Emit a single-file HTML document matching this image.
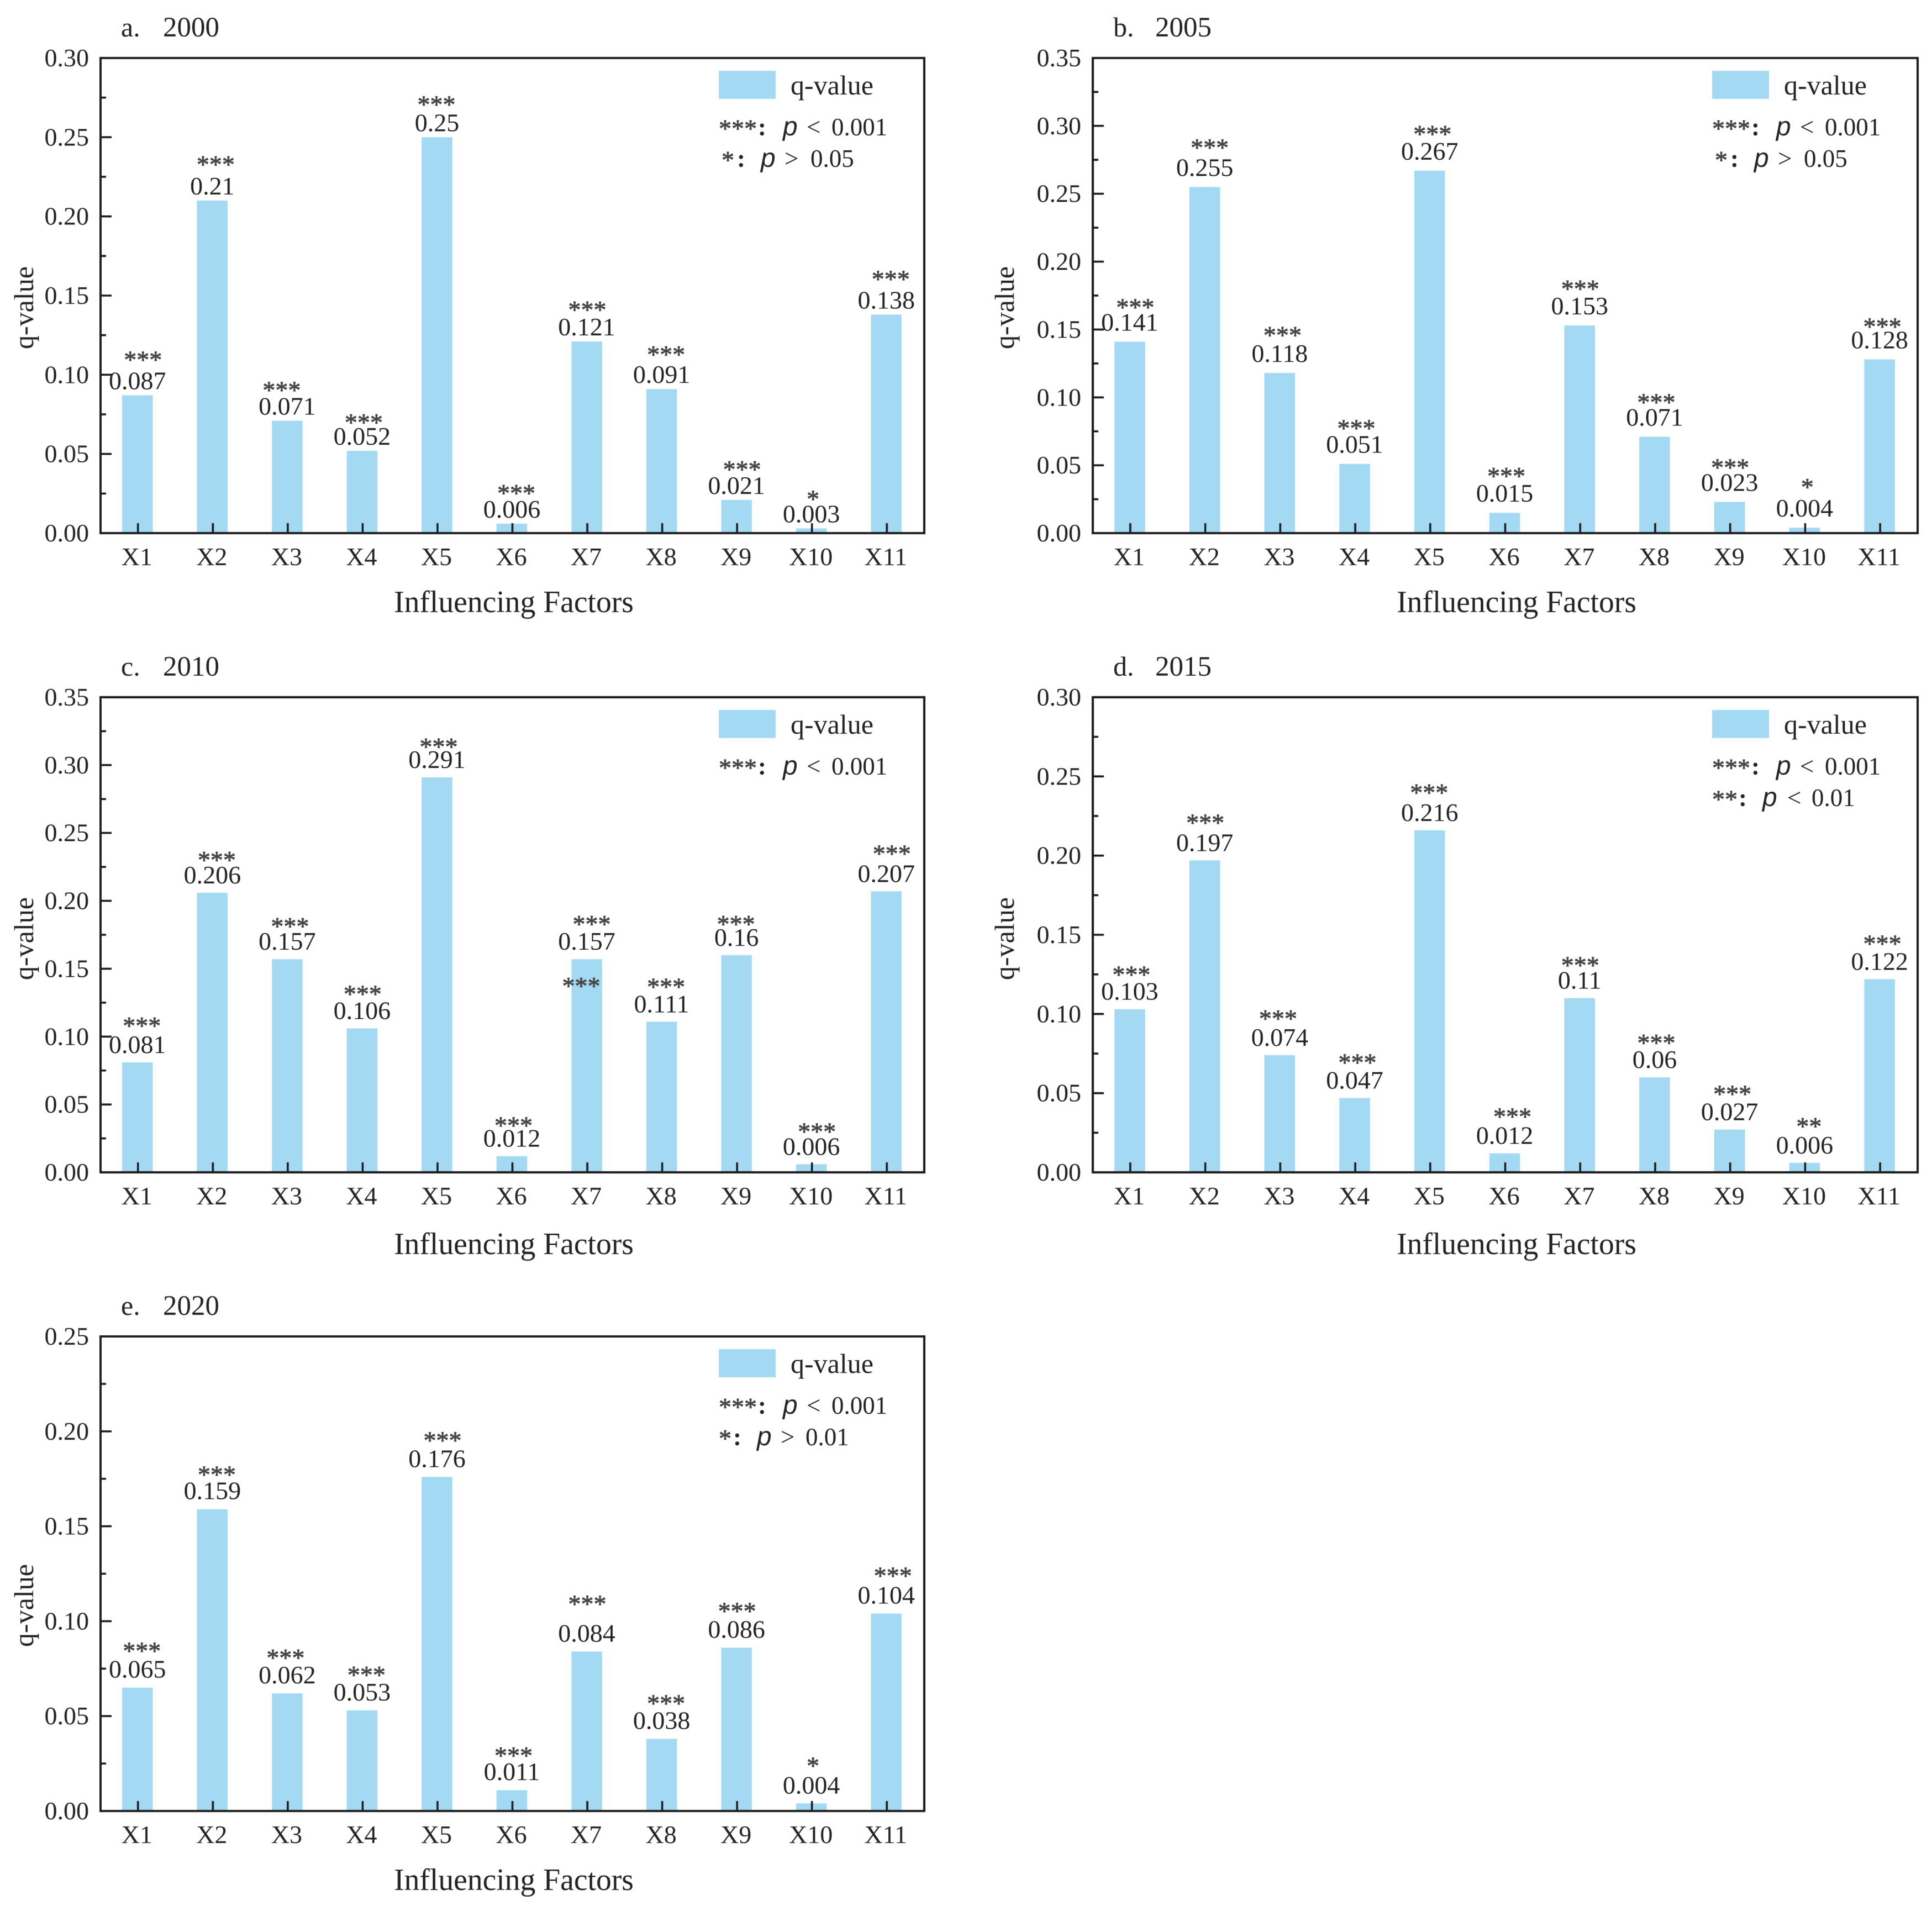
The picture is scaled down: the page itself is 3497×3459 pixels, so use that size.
<!DOCTYPE html>
<html lang="en">
<head>
<meta charset="utf-8">
<title>q-value by influencing factor, 2000-2020</title>
<style>
html,body{margin:0;padding:0;background:#fff;}
#chart-root{display:block;width:3497px;height:3459px;filter:blur(0.7px);}
text{font-family:"Liberation Serif","Noto Serif CJK SC",serif;fill:#222;}
.p-mark{font-family:"Liberation Sans",sans-serif;font-style:italic;}
.star-mark{fill:#444;stroke:#444;stroke-width:0.9px;}
</style>
</head>
<body>
<svg id="chart-root" xmlns="http://www.w3.org/2000/svg" width="3497" height="3459" viewBox="0 0 3497 3459"></svg>
<script>
// ---- Data ----
const categories = ['X1','X2','X3','X4','X5','X6','X7','X8','X9','X10','X11'];

const q2000 = [0.087,0.21,0.071,0.052,0.25,0.006,0.121,0.091,0.021,0.003,0.138];
const q2005 = [0.141,0.255,0.118,0.051,0.267,0.015,0.153,0.071,0.023,0.004,0.128];
const q2010 = [0.081,0.206,0.157,0.106,0.291,0.012,0.157,0.111,0.16,0.006,0.207];
const q2015 = [0.103,0.197,0.074,0.047,0.216,0.012,0.11,0.06,0.027,0.006,0.122];
const q2020 = [0.065,0.159,0.062,0.053,0.176,0.011,0.084,0.038,0.086,0.004,0.104];

const stars2000 = ['***','***','***','***','***','***','***','***','***','*','***'];
const stars2005 = ['***','***','***','***','***','***','***','***','***','*','***'];
const stars2010 = ['***','***','***','***','***','***','***','***','***','***','***'];
const stars2015 = ['***','***','***','***','***','***','***','***','***','**','***'];
const stars2020 = ['***','***','***','***','***','***','***','***','***','*','***'];

const ticks030 = ['0.00','0.05','0.10','0.15','0.20','0.25','0.30'];
const ticks035 = ['0.00','0.05','0.10','0.15','0.20','0.25','0.30','0.35'];
const ticks025 = ['0.00','0.05','0.10','0.15','0.20','0.25'];

// ---- Hand placement of the significance marks, as offsets from each bar top ----
const starLift2000 = [67,68,58,54,62,58,60,65,58,56,67];
const starLift2005 = [65,74,71,67,69,69,69,65,65,76,62];
const starLift2010 = [69,62,62,65,58,58,66,66,59,62,71];
const starLift2015 = [65,71,69,67,71,69,62,65,67,69,67];
const starLift2020 = [69,65,67,67,69,65,89,67,69,71,71];

const starShift2000 = [9,5,-11,2,-2,7,0,7,9,2,7];
const starShift2005 = [9,8,4,2,4,2,0,2,0,4,4];
const starShift2010 = [7,7,4,0,2,2,8,7,-2,9,9];
const starShift2015 = [2,0,-4,4,-2,13,0,2,4,7,4];
const starShift2020 = [7,7,-4,7,9,2,0,7,0,2,11];

const noteRow1 = [{t:'***',x:-372},{t:':',x:-301,b:1},{t:'p',x:-256,i:1},{t:'<',x:-213},{t:'0.001',x:-168}];
const noteP05 = [{t:'*',x:-367},{t:':',x:-339,b:1},{t:'p',x:-296,i:1},{t:'>',x:-253},{t:'0.05',x:-206}];
const noteP01s = [{t:'**',x:-372},{t:':',x:-324,b:1},{t:'p',x:-281,i:1},{t:'<',x:-236},{t:'0.01',x:-192}];
const noteP01g = [{t:'*',x:-372},{t:':',x:-346,b:1},{t:'p',x:-303,i:1},{t:'>',x:-260},{t:'0.01',x:-215}];

const panels = [
 {id:'2000',letter:'a.',left:182,right:1673,top:105,bottom:965,q:q2000,stars:stars2000,ticks:ticks030,lift:starLift2000,shift:starShift2000,valueGap:10,yLabelY:557,yLabelX:60,xLabelX:930,xLabelGap:143,notes:[noteRow1,noteP05]},
 {id:'2005',letter:'b.',left:1978,right:3471,top:105,bottom:965,q:q2005,stars:stars2005,ticks:ticks035,lift:starLift2005,shift:starShift2005,valueGap:19,yLabelY:557,yLabelX:1835,xLabelX:2745,xLabelGap:143,notes:[noteRow1,noteP05]},
 {id:'2010',letter:'c.',left:182,right:1673,top:1262,bottom:2122,q:q2010,stars:stars2010,ticks:ticks035,lift:starLift2010,shift:starShift2010,valueGap:16,yLabelY:1699,yLabelX:60,xLabelX:930,xLabelGap:148,notes:[noteRow1],strayStar:{index:6,drop:46,shift:-11}},
 {id:'2015',letter:'d.',left:1978,right:3471,top:1262,bottom:2122,q:q2015,stars:stars2015,ticks:ticks030,lift:starLift2015,shift:starShift2015,valueGap:16,yLabelY:1699,yLabelX:1835,xLabelX:2745,xLabelGap:148,notes:[noteRow1,noteP01s]},
 {id:'2020',letter:'e.',left:182,right:1673,top:2419,bottom:3278,q:q2020,stars:stars2020,ticks:ticks025,lift:starLift2020,shift:starShift2020,valueGap:17,yLabelY:2906,yLabelX:60,xLabelX:930,xLabelGap:143,notes:[noteRow1,noteP01g]}
];

// ---- Drawing ----
const NS = 'http://www.w3.org/2000/svg';
const root = document.getElementById('chart-root');
const BAR_COLOR = '#a3d9f2';
const AXIS_COLOR = '#1c1c1c';

function make(tag, attrs, parent, content) {
  const node = document.createElementNS(NS, tag);
  for (const key in attrs) node.setAttribute(key, attrs[key]);
  if (content !== undefined) node.textContent = content;
  parent.appendChild(node);
  return node;
}

panels.forEach(function (p) {
  const g = make('g', {}, root);
  
  

  const yMax = parseFloat(p.ticks[p.ticks.length - 1]);
  const yScale = function (v) { return p.bottom - (v / yMax) * (p.bottom - p.top); };
  const band = (p.right - p.left) / categories.length;
  const xScale = function (i) { return p.left + band * (i + 0.5); };
  const barWidth = band * 0.41;

  // panel title
  const titleLetter = make('text', {x: p.left + 37, y: p.top - 39, 'font-size': 50}, g, p.letter);
  
  
  const titleYear = make('text', {x: p.left + 113, y: p.top - 39, 'font-size': 51}, g, p.id);
  
  

  // bars
  p.q.forEach(function (v, i) {
    const bar = make('rect', {x: xScale(i) - barWidth / 2 - 1, y: yScale(v), width: barWidth, height: p.bottom - yScale(v), fill: BAR_COLOR}, g);
    
    
  });

  // value and significance labels
  p.q.forEach(function (v, i) {
    const top = yScale(v);
    const value = make('text', {x: xScale(i) - 1, y: top - p.valueGap - 1, 'font-size': 46, 'text-anchor': 'middle'}, g, String(v));
    
    
    const mark = make('text', {x: xScale(i) + p.shift[i], y: top - p.lift[i] + 18, 'font-size': 46, 'text-anchor': 'middle', 'class': 'star-mark'}, g, p.stars[i]);
    
    
  });

  if (p.strayStar) {
    const s = p.strayStar;
    const stray = make('text', {x: xScale(s.index) + s.shift, y: yScale(p.q[s.index]) + s.drop + 18, 'font-size': 46, 'text-anchor': 'middle', 'class': 'star-mark'}, g, '***');
    
    
  }

  // frame
  const frame = make('rect', {x: p.left, y: p.top, width: p.right - p.left, height: p.bottom - p.top, fill: 'none', stroke: AXIS_COLOR, 'stroke-width': 4}, g);
  
  

  // y ticks
  p.ticks.forEach(function (label, i) {
    const v = parseFloat(label);
    const y = yScale(v);
    const tick = make('line', {x1: p.left, x2: p.left + 20, y1: y, y2: y, stroke: AXIS_COLOR, 'stroke-width': 3.6}, g);
    
    
    const text = make('text', {x: p.left - 21, y: y + 15, 'font-size': 46, 'text-anchor': 'end'}, g, label);
    
    
    if (i < p.ticks.length - 1) {
      const my = yScale((v + parseFloat(p.ticks[i + 1])) / 2);
      const minor = make('line', {x1: p.left, x2: p.left + 10, y1: my, y2: my, stroke: AXIS_COLOR, 'stroke-width': 3.6}, g);
      
      
    }
  });

  // x ticks
  categories.forEach(function (c, i) {
    const tick = make('line', {x1: xScale(i), x2: xScale(i), y1: p.bottom, y2: p.bottom - 18, stroke: AXIS_COLOR, 'stroke-width': 3.6}, g);
    
    
    const text = make('text', {x: xScale(i) - 2, y: p.bottom + 58, 'font-size': 46, 'text-anchor': 'middle'}, g, c);
    
    
  });

  // axis titles
  const xTitle = make('text', {x: p.xLabelX, y: p.bottom + p.xLabelGap, 'font-size': 55.6, 'text-anchor': 'middle'}, g, 'Influencing Factors');
  
  
  const yTitle = make('text', {x: 0, y: 0, 'font-size': 50, 'text-anchor': 'middle', transform: 'translate(' + p.yLabelX + ' ' + p.yLabelY + ') rotate(-90)'}, g, 'q-value');
  
  

  // legend
  const swatch = make('rect', {x: p.right - 372, y: p.top + 23, width: 103, height: 51, fill: BAR_COLOR}, g);
  
  
  const legendText = make('text', {x: p.right - 242, y: p.top + 66, 'font-size': 50}, g, 'q-value');
  
  

  p.notes.forEach(function (row, r) {
    const rowY = p.top + 140 + r * 57;
    const note = make('g', {}, g);
    
    
    row.forEach(function (part) {
      const isStars = part.t.charAt(0) === '*';
      const attrs = {x: p.right + part.x, y: rowY + (isStars ? 3 : 0), 'font-size': part.i ? 48 : (isStars ? 46 : 45)};
      if (part.i) attrs['class'] = 'p-mark';
      if (part.b) attrs['font-weight'] = 'bold';
      if (isStars) attrs['class'] = 'star-mark';
      make('text', attrs, note, part.t);
    });
  });
});
</script>
</body>
</html>
